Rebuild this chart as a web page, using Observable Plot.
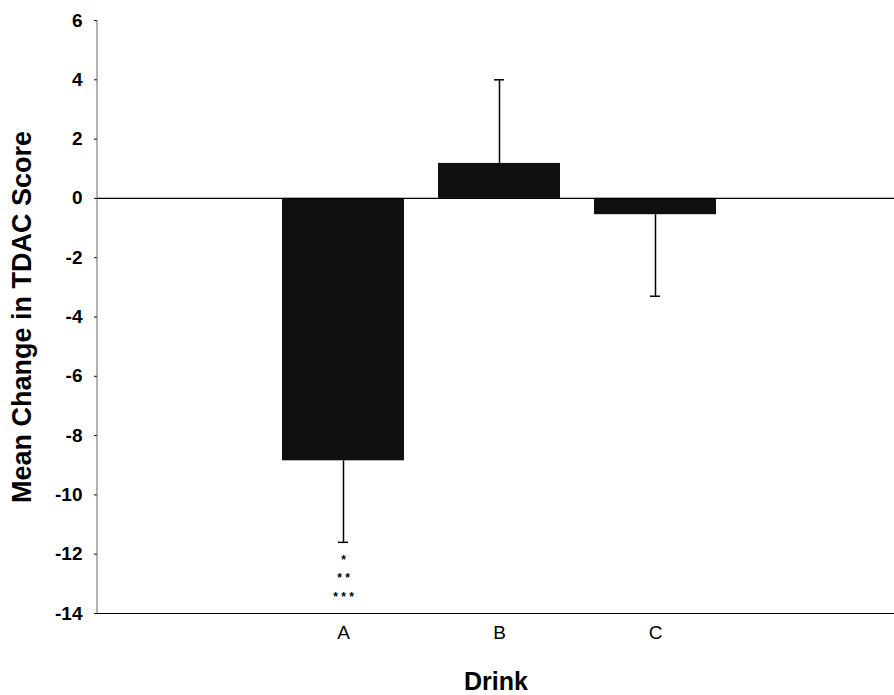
<!DOCTYPE html>
<html>
<head>
<meta charset="utf-8">
<script src="https://cdn.jsdelivr.net/npm/d3@7"></script>
<script src="https://cdn.jsdelivr.net/npm/@observablehq/plot@0.6"></script>
<style>
  html, body { margin: 0; padding: 0; background: #fff; }
  #chart { width: 894px; height: 695px; }
  svg { font-family: "Liberation Sans", Arial, Helvetica, sans-serif; }
  g[aria-label="y-axis tick label"] text { font-size: 19px; font-weight: bold; }
  g[aria-label="x-axis tick label"] text { font-size: 19px; font-weight: normal; }
  g[aria-label="y-axis label"] text { font-size: 27px; font-weight: bold; }
  g[aria-label="x-axis label"] text { font-size: 25px; font-weight: bold; }
  g[aria-label="text"] text { font-size: 12px; font-weight: bold; }
</style>
</head>
<body>
<div id="chart"></div>
<script>
// ---- data ----
const drinks = ["A", "B", "C"];
const meanChange = [-8.85, 1.18, -0.55];
const errorEnd = [-11.6, 4.0, -3.3];
const yTicks = [6, 4, 2, 0, -2, -4, -6, -8, -10, -12, -14];
const starLabels = ["*", "* *", "* * *"];
const starValues = [-12.2, -12.8, -13.45];
const starDrink = "A";

const bars = drinks.map((d, i) => ({drink: d, mean: meanChange[i], end: errorEnd[i]}));
const stars = starLabels.map((s, i) => ({drink: starDrink, y: starValues[i], label: s}));

// left axis line drawn at the frame edge
function leftAxisLine(index, scales, values, dims) {
  const g = d3.create("svg:g");
  g.append("line")
    .attr("x1", dims.marginLeft).attr("x2", dims.marginLeft)
    .attr("y1", scales.y(6)).attr("y2", scales.y(-14))
    .attr("stroke", "#666").attr("stroke-width", 1);
  return g.node();
}

const chart = Plot.plot({
  width: 894,
  height: 695,
  marginLeft: 97,
  marginRight: 0,
  marginTop: 20,
  marginBottom: 82,
  style: {fontFamily: "'Liberation Sans', Arial, sans-serif", color: "#000", background: "#fff"},
  x: {domain: drinks, paddingInner: 0.22, paddingOuter: 0.11, insetLeft: 167, insetRight: 161},
  y: {domain: [-14, 6]},
  marks: [
    Plot.axisY({ticks: yTicks, tickFormat: d => String(d), tickSize: 3, tickPadding: 12,
      label: "Mean Change in TDAC Score", labelAnchor: "center", labelArrow: "none", labelOffset: 86}),
    Plot.axisX({tickSize: 0, tickPadding: 12,
      label: "Drink", labelAnchor: "center", labelArrow: "none", labelOffset: 76}),
    leftAxisLine,
    Plot.ruleX(bars, {x: "drink", y1: "mean", y2: "end", stroke: "#000", strokeWidth: 1.5}),
    Plot.barY(bars, {x: "drink", y: "mean", fill: "#0f0f0f"}),
    Plot.tickY(bars, {x: "drink", y: "end", stroke: "#000", strokeWidth: 1.5, insetLeft: 56, insetRight: 56}),
    Plot.ruleY([0], {stroke: "#000", strokeWidth: 1.2}),
    Plot.ruleY([-14], {stroke: "#000", strokeWidth: 1.2}),
    Plot.text(stars, {x: "drink", y: "y", text: "label"})
  ]
});

document.getElementById("chart").appendChild(chart);
</script>
</body>
</html>
